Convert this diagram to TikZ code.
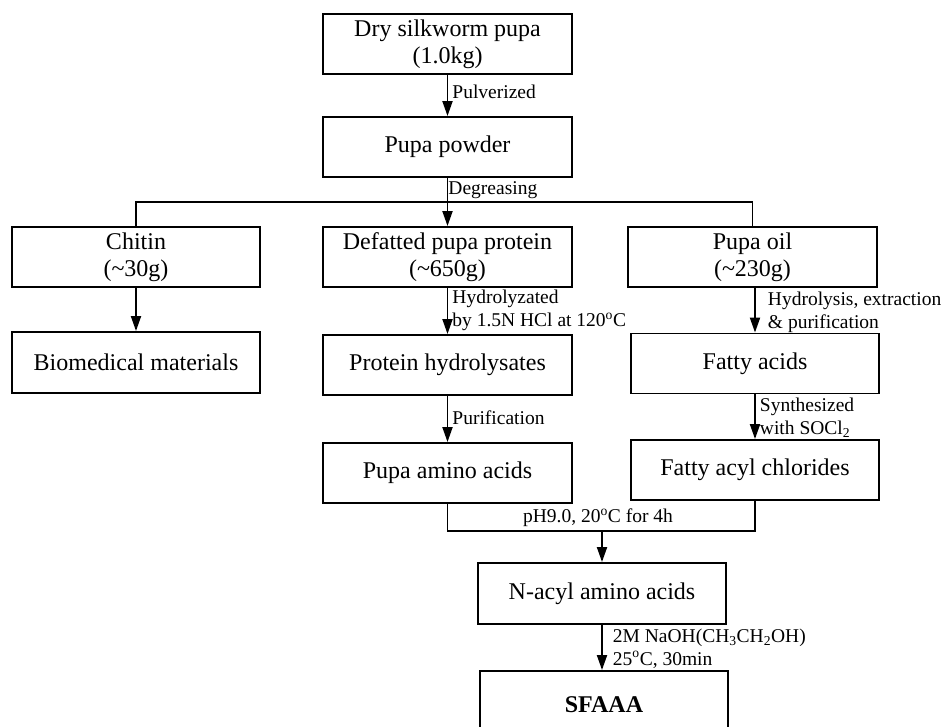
\documentclass[tikz,border=0pt]{standalone}
\usepackage{fontspec}
\setmainfont{Liberation Serif}
\usetikzlibrary{arrows.meta,calc}

\begin{document}
\begin{tikzpicture}[x=1pt,y=-1pt,
  box/.style={draw,line width=1.9pt,minimum width=249pt,minimum height=60pt,inner sep=0pt,align=center,font=\fontsize{24}{27}\selectfont},
  lbl/.style={font=\fontsize{19.5}{23}\selectfont,align=left,inner xsep=4pt,inner ysep=0pt},
  arr/.style={line width=1.9pt,-{Triangle[length=15pt,width=10pt]}},
  link/.style={line width=1.9pt}]
  \useasboundingbox (0,0) rectangle (943,727);

  % Raw material
  \node[box] (dry) at (447.5,44) {Dry silkworm pupa\\(1.0kg)};
  \node[box] (powder) at (447.5,147) {Pupa powder};

  % Three fractions
  \node[box,minimum width=248pt] (chitin) at (136,257) {Chitin\\(\textasciitilde30g)};
  \node[box] (defat) at (447.5,257) {Defatted pupa protein\\(\textasciitilde650g)};
  \node[box] (oil) at (752.5,257) {Pupa oil\\(\textasciitilde230g)};

  % Products
  \node[box,minimum width=248pt,minimum height=61pt] (bio) at (136,362.5) {Biomedical materials};
  \node[box] (hydro) at (447.5,365) {Protein hydrolysates};
  \node[box,minimum width=248pt] (fatty) at (755,363.5) {Fatty acids};
  \node[box,minimum width=248pt] (chlor) at (755,470) {Fatty acyl chlorides};
  \node[box] (amino) at (447.5,473) {Pupa amino acids};
  \node[box,minimum width=248pt,minimum height=61pt] (nacyl) at (602,593.5) {N-acyl amino acids};
  \node[box,minimum width=248pt,minimum height=68pt,font=\fontsize{24}{27}\selectfont\bfseries] (sfaaa) at (604,705) {SFAAA};

  % Connectors
  \draw[arr] (dry) -- node[lbl,right,pos=0.4] {Pulverized} (powder);
  \draw[arr] (powder) -- node[lbl,right,pos=0.26,xshift=-4pt] {Degreasing} (defat);
  \draw[link] (chitin.north) |- ($(powder.south)!0.5!(defat.north)$) -| (oil.north);
  \draw[arr] (chitin) -- (bio);
  \draw[arr] (defat) -- node[lbl,right,pos=0.49] {Hydrolyzated\\by 1.5N HCl at 120\textsuperscript{o}C} (hydro);
  \draw[arr] (hydro) -- node[lbl,right,pos=0.48] {Purification} (amino);
  \draw[arr] (oil.south -| fatty.north) -- node[lbl,right,pos=0.55,xshift=8pt] {Hydrolysis, extraction\\\& purification} (fatty);
  \draw[arr] (fatty) -- node[lbl,right,pos=0.52] {Synthesized\\with SOCl\textsubscript{2}} (chlor);

  % Condensation
  \coordinate (join) at ($(nacyl.north)+(0,-31)$);
  \draw[link] (amino.south) |- (join) -| (chlor.south);
  \node[lbl,above=4pt,xshift=-4pt] (cond) at (join) {pH9.0, 20\textsuperscript{o}C for 4h};
  \draw[arr] (join) -- (nacyl);
  \draw[arr] (nacyl) -- node[lbl,right,pos=0.52,xshift=6pt] {2M NaOH(CH\textsubscript{3}CH\textsubscript{2}OH)\\25\textsuperscript{o}C, 30min} (sfaaa.north -| nacyl.south);
\end{tikzpicture}
\end{document}
